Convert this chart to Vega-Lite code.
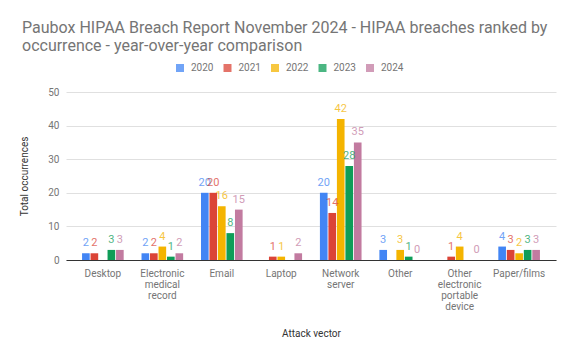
{
  "$schema": "https://vega.github.io/schema/vega-lite/v6.json",
  "width": 490,
  "height": 168,
  "padding": {"left": 19, "top": 20, "right": 17, "bottom": 5},
  "background": "white",
  "title": {
    "text": ["Paubox HIPAA Breach Report November 2024 - HIPAA breaches ranked by", "occurrence - year-over-year comparison"],
    "anchor": "start",
    "frame": "group",
    "font": "Roboto",
    "fontSize": 16,
    "fontWeight": "normal",
    "color": "#757575",
    "lineHeight": 18,
    "offset": 9,
    "dx": -44
  },
  "config": {
    "font": "Roboto",
    "view": {"stroke": null},
    "axis": {"labelFont": "Roboto", "titleFont": "Roboto", "labelColor": "#757575", "titleColor": "#333333", "titleFontWeight": "normal", "labelFontSize": 10, "titleFontSize": 10}
  },
  "data": {
    "values": [
      {"vector": "Desktop", "year": "2020", "count": 2},
      {"vector": "Desktop", "year": "2021", "count": 2},
      {"vector": "Desktop", "year": "2023", "count": 3},
      {"vector": "Desktop", "year": "2024", "count": 3},
      {"vector": "Electronic medical record", "year": "2020", "count": 2},
      {"vector": "Electronic medical record", "year": "2021", "count": 2},
      {"vector": "Electronic medical record", "year": "2022", "count": 4},
      {"vector": "Electronic medical record", "year": "2023", "count": 1},
      {"vector": "Electronic medical record", "year": "2024", "count": 2},
      {"vector": "Email", "year": "2020", "count": 20},
      {"vector": "Email", "year": "2021", "count": 20},
      {"vector": "Email", "year": "2022", "count": 16},
      {"vector": "Email", "year": "2023", "count": 8},
      {"vector": "Email", "year": "2024", "count": 15},
      {"vector": "Laptop", "year": "2021", "count": 1},
      {"vector": "Laptop", "year": "2022", "count": 1},
      {"vector": "Laptop", "year": "2024", "count": 2},
      {"vector": "Network server", "year": "2020", "count": 20},
      {"vector": "Network server", "year": "2021", "count": 14},
      {"vector": "Network server", "year": "2022", "count": 42},
      {"vector": "Network server", "year": "2023", "count": 28},
      {"vector": "Network server", "year": "2024", "count": 35},
      {"vector": "Other", "year": "2020", "count": 3},
      {"vector": "Other", "year": "2022", "count": 3},
      {"vector": "Other", "year": "2023", "count": 1},
      {"vector": "Other", "year": "2024", "count": 0},
      {"vector": "Other electronic portable device", "year": "2021", "count": 1},
      {"vector": "Other electronic portable device", "year": "2022", "count": 4},
      {"vector": "Other electronic portable device", "year": "2024", "count": 0},
      {"vector": "Paper/films", "year": "2020", "count": 4},
      {"vector": "Paper/films", "year": "2021", "count": 3},
      {"vector": "Paper/films", "year": "2022", "count": 2},
      {"vector": "Paper/films", "year": "2023", "count": 3},
      {"vector": "Paper/films", "year": "2024", "count": 3}
    ]
  },
  "encoding": {
    "x": {
      "field": "vector", "type": "nominal", "title": "Attack vector",
      "scale": {"paddingInner": 0.3, "paddingOuter": 0.27},
      "axis": {"labelAngle": 0, "labelExpr": "split(datum.label, ' ')", "ticks": false, "domainColor": "#333333", "labelPadding": 8, "titleY": 68, "labelLineHeight": 11}
    },
    "xOffset": {"field": "year", "type": "nominal", "scale": {"domain": ["2020", "2021", "2022", "2023", "2024"], "paddingInner": 0.1}},
    "y": {
      "field": "count", "type": "quantitative", "title": "Total occurrences",
      "scale": {"domain": [0, 50]},
      "axis": {"values": [0, 10, 20, 30, 40, 50], "domain": false, "ticks": false, "gridColor": "#e0e0e0", "labelPadding": 7, "titlePadding": 18}
    },
    "color": {
      "field": "year", "type": "nominal", "title": null,
      "scale": {"domain": ["2020", "2021", "2022", "2023", "2024"], "range": ["#4285F4", "#DB4437", "#F4B400", "#0F9D58", "#C27BA0"]},
      "legend": {"orient": "none", "legendX": 109, "legendY": -29, "direction": "horizontal", "symbolType": "square", "symbolSize": 64, "symbolStrokeWidth": 0, "labelFont": "Roboto", "labelFontSize": 10, "labelColor": "#757575", "labelOffset": 6, "columnPadding": 8.5}
    }
  },
  "layer": [
    {"mark": {"type": "bar"}},
    {"mark": {"type": "text", "dy": -10, "fontSize": 11, "font": "Roboto", "opacity": 0.75}, "encoding": {"text": {"field": "count", "type": "quantitative"}}}
  ]
}
